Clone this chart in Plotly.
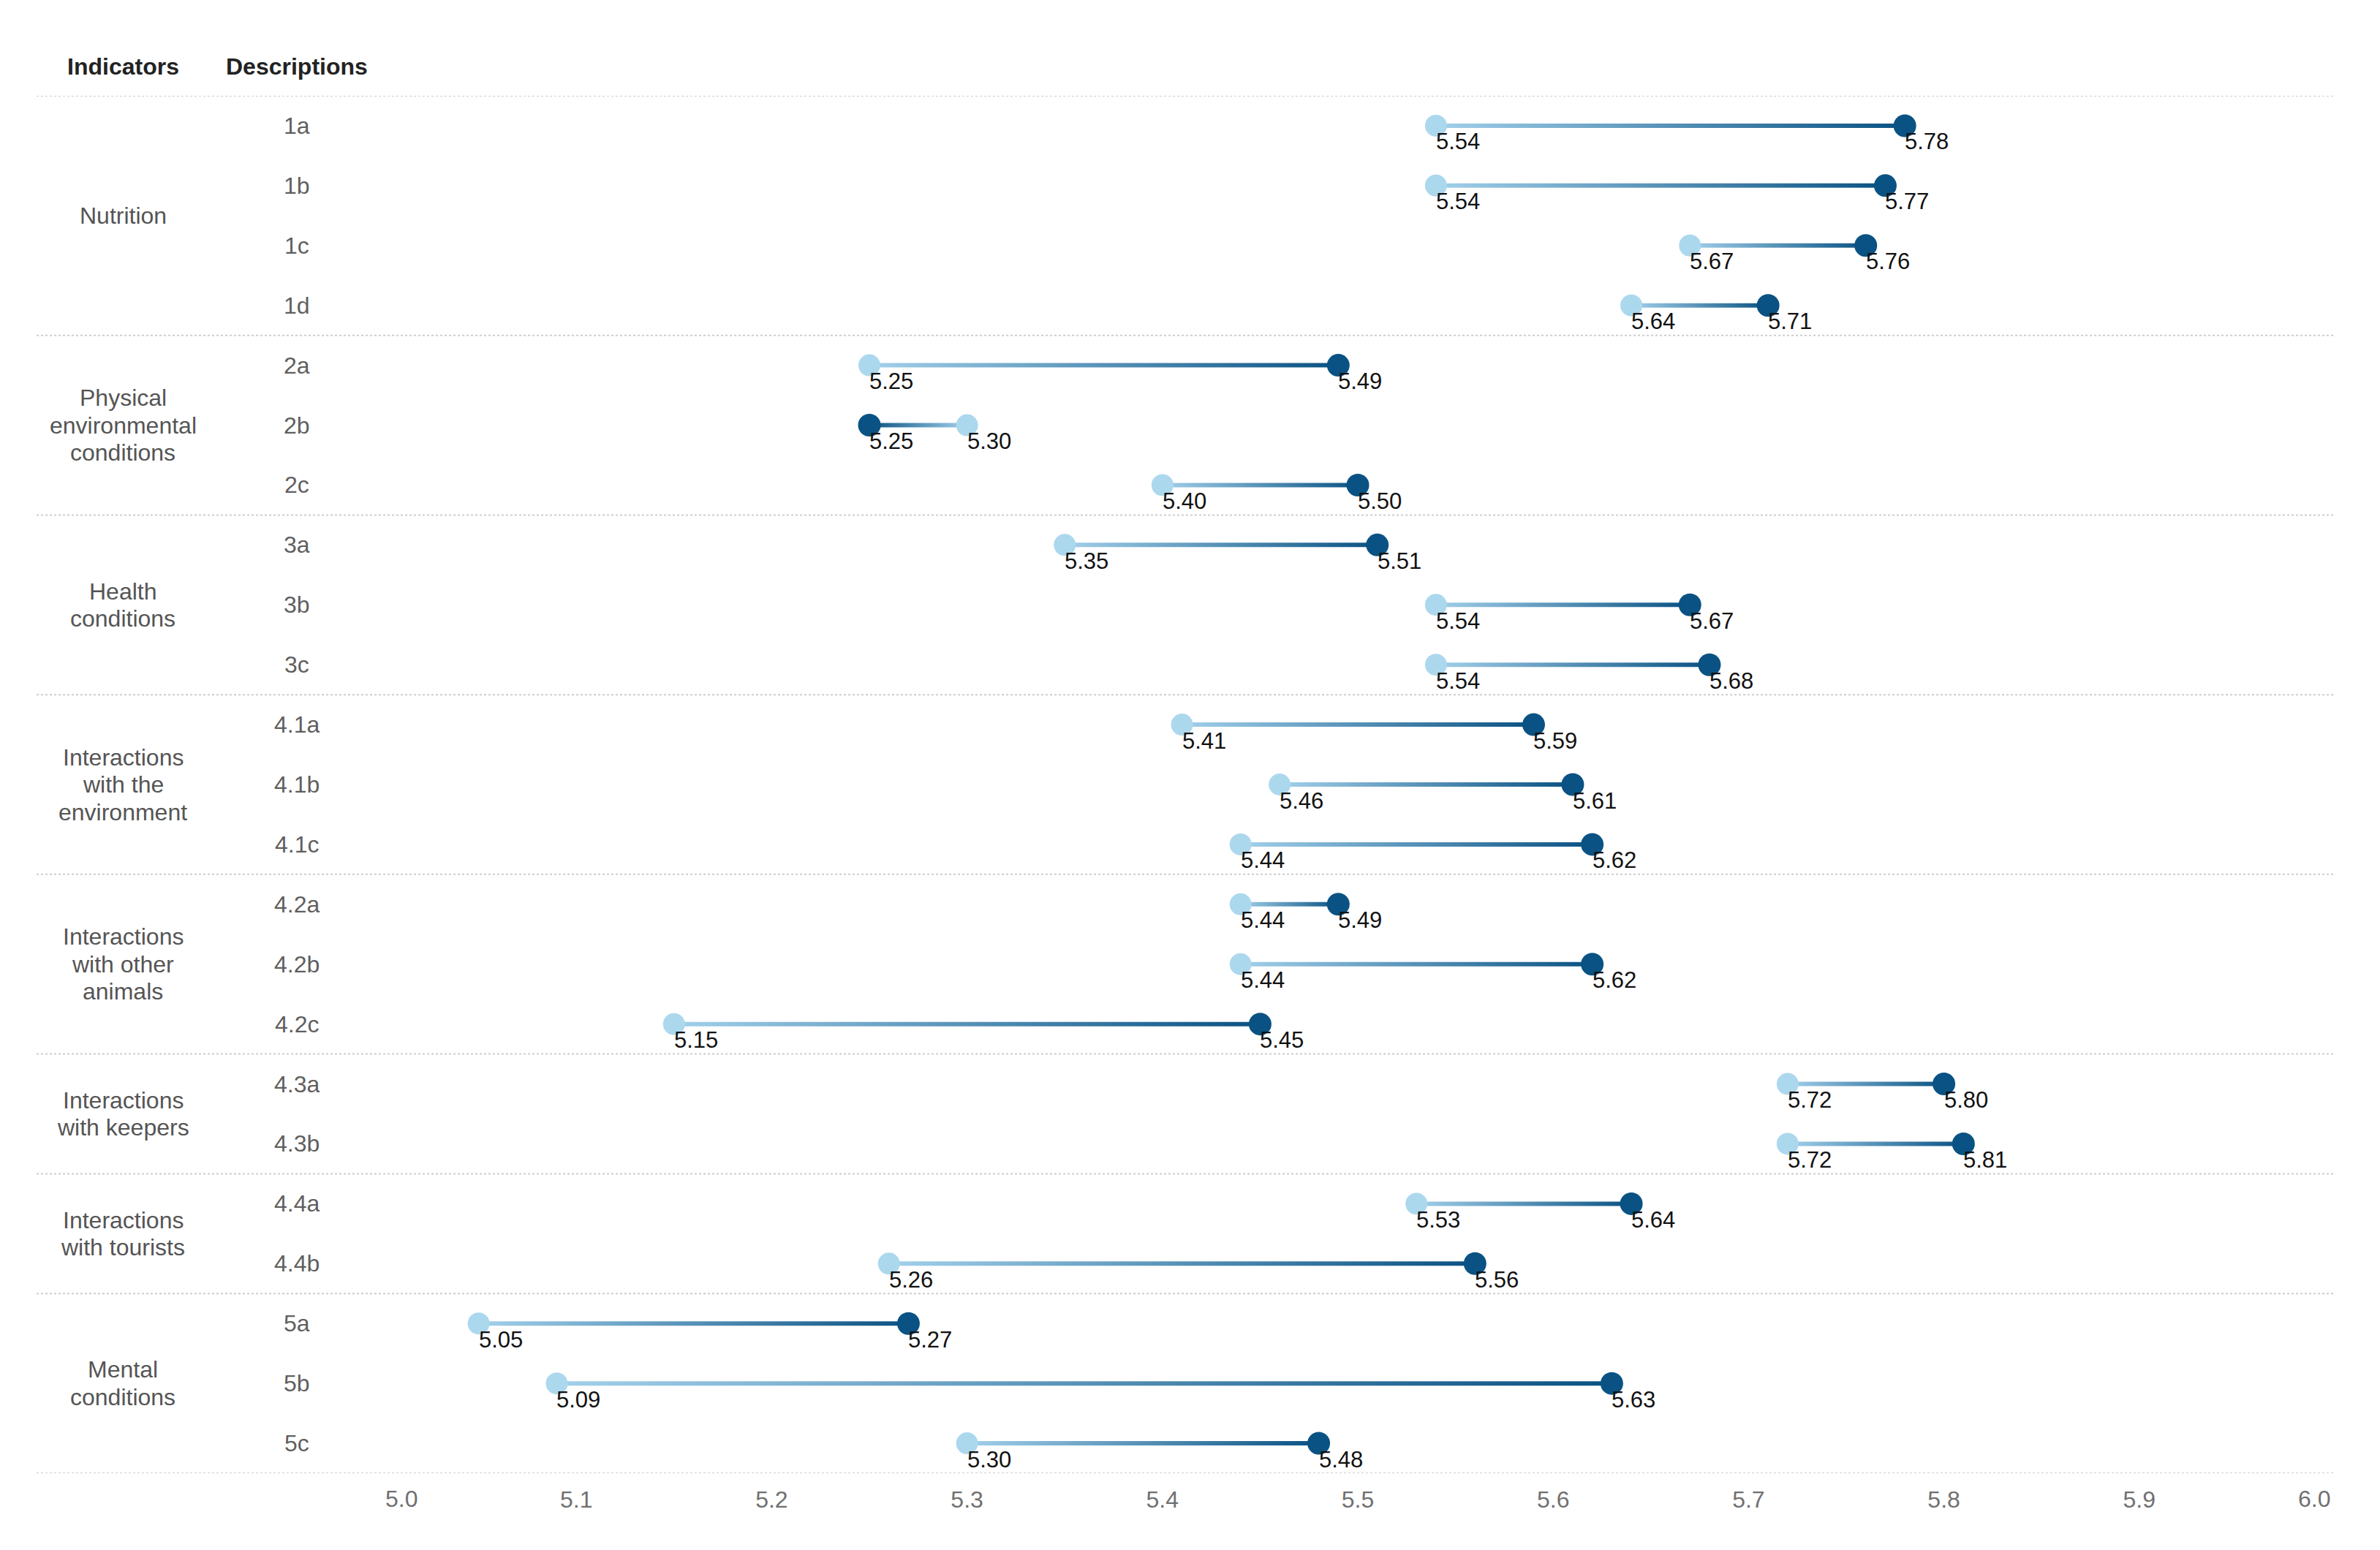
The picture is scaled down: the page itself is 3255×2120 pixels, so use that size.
import plotly.graph_objects as go

# ---- data ----
descriptions = ["1a", "1b", "1c", "1d",
                "2a", "2b", "2c",
                "3a", "3b", "3c",
                "4.1a", "4.1b", "4.1c",
                "4.2a", "4.2b", "4.2c",
                "4.3a", "4.3b",
                "4.4a", "4.4b",
                "5a", "5b", "5c"]
indicators = [["Nutrition"],
              ["Physical", "environmental", "conditions"],
              ["Health", "conditions"],
              ["Interactions", "with the", "environment"],
              ["Interactions", "with other", "animals"],
              ["Interactions", "with keepers"],
              ["Interactions", "with tourists"],
              ["Mental", "conditions"]]
group_sizes = [4, 3, 3, 3, 3, 2, 2, 3]
light_values = [5.54, 5.54, 5.67, 5.64,
                5.25, 5.30, 5.40,
                5.35, 5.54, 5.54,
                5.41, 5.46, 5.44,
                5.44, 5.44, 5.15,
                5.72, 5.72,
                5.53, 5.26,
                5.05, 5.09, 5.30]
dark_values = [5.78, 5.77, 5.76, 5.71,
               5.49, 5.25, 5.50,
               5.51, 5.67, 5.68,
               5.59, 5.61, 5.62,
               5.49, 5.62, 5.45,
               5.80, 5.81,
               5.64, 5.56,
               5.27, 5.63, 5.48]
x_min, x_max = 5.0, 6.0
inner_ticks = [5.1, 5.2, 5.3, 5.4, 5.5, 5.6, 5.7, 5.8, 5.9]

# ---- style ----
W, H = 3255, 2120
ML, MR, MT, MB = 513, 70, 123, 113
PW = W - ML - MR
PH = H - MT - MB
LIGHT = "#acd8ee"
LINE_LIGHT = "#a2d0ea"
DARK = "#0a5283"
FONT = "Liberation Sans, Arial, Helvetica, sans-serif"
LABEL_SIZE = 32
VALUE_SIZE = 31
LINE_PX = 6


def px_to_paper(px):
    return (px - ML) / PW


n = len(descriptions)
rows = list(range(n))
half = (LINE_PX / 2.0) / (PH / n)   # half line thickness in row units

fig = go.Figure()

# connecting bars with a light -> dark colour gradient
for i in rows:
    a, b = light_values[i], dark_values[i]
    scale = [[0, LINE_LIGHT], [1, DARK]] if a <= b else [[0, DARK], [1, LINE_LIGHT]]
    fig.add_trace(go.Scatter(
        x=[a, b, b, a, a], y=[i - half, i - half, i + half, i + half, i - half],
        mode="none", fill="toself",
        fillgradient=dict(type="horizontal", colorscale=scale),
        hoverinfo="skip", showlegend=False))

fig.add_trace(go.Scatter(x=light_values, y=rows, mode="markers",
                         marker=dict(color=LIGHT, size=30, line=dict(width=0)),
                         showlegend=False))
fig.add_trace(go.Scatter(x=dark_values, y=rows, mode="markers",
                         marker=dict(color=DARK, size=31, line=dict(width=0)),
                         showlegend=False))

annotations = []
# value labels
for vals in (light_values, dark_values):
    for i in rows:
        annotations.append(dict(
            x=vals[i], y=i, xref="x", yref="y", text=f"{vals[i]:.2f}",
            showarrow=False, xanchor="left", yanchor="middle",
            xshift=-2, yshift=-22,
            font=dict(family=FONT, size=VALUE_SIZE, color="#111111")))

# description labels
desc_x = px_to_paper(398)
ind_x = px_to_paper(160)
for i in rows:
    annotations.append(dict(
        x=desc_x, y=i, xref="paper", yref="y", text=descriptions[i],
        showarrow=False, xanchor="center", yanchor="middle",
        font=dict(family=FONT, size=LABEL_SIZE, color="#5f5f5f")))

# indicator labels + separators
LINE_GAP = 37.5
shapes = []
start = 0
bounds = [-0.5]
for lines, size in zip(indicators, group_sizes):
    mid = start + (size - 1) / 2.0
    k = len(lines)
    for j, t in enumerate(lines):
        annotations.append(dict(
            x=ind_x, y=mid, xref="paper", yref="y", text=t,
            showarrow=False, xanchor="center", yanchor="middle",
            yshift=((k - 1) / 2.0 - j) * LINE_GAP,
            font=dict(family=FONT, size=LABEL_SIZE, color="#555555")))
    start += size
    bounds.append(start - 0.5)

sep_x0 = px_to_paper(42)
for b in bounds:
    shapes.append(dict(type="line", xref="paper", yref="y", x0=sep_x0, x1=1, y0=b, y1=b,
                       line=dict(color="#cdcdcd", width=2, dash="dot"), layer="below"))

# headers
head_y = 1 + (MT - 83) / PH
for txt, xp in (("Indicators", ind_x), ("Descriptions", desc_x)):
    annotations.append(dict(
        x=xp, y=head_y, xref="paper", yref="paper", text=f"<b>{txt}</b>",
        showarrow=False, xanchor="center", yanchor="middle",
        font=dict(family=FONT, size=LABEL_SIZE, color="#222222")))

# end tick labels kept inside the axis range
TICK_FONT = dict(family=FONT, size=LABEL_SIZE, color="#707070")
annotations.append(dict(x=x_min, y=0, xref="x", yref="paper", text=f"{x_min:.1f}",
                        showarrow=False, xanchor="left", yanchor="middle",
                        xshift=4, yshift=-35, font=TICK_FONT))
annotations.append(dict(x=x_max, y=0, xref="x", yref="paper", text=f"{x_max:.1f}",
                        showarrow=False, xanchor="right", yanchor="middle",
                        xshift=-4, yshift=-35, font=TICK_FONT))

fig.update_layout(
    width=W, height=H,
    margin=dict(l=ML, r=MR, t=MT, b=MB),
    paper_bgcolor="white", plot_bgcolor="white",
    xaxis=dict(range=[x_min, x_max], tickvals=inner_ticks,
               ticktext=[f"{v:.1f}" for v in inner_ticks],
               showgrid=False, zeroline=False, showline=False, ticks="",
               ticklabelstandoff=14,
               tickfont=TICK_FONT),
    yaxis=dict(range=[n - 0.5, -0.5], showgrid=False, zeroline=False,
               showline=False, showticklabels=False, ticks=""),
    annotations=annotations,
    shapes=shapes,
    showlegend=False,
)

fig.write_html("out.html")
